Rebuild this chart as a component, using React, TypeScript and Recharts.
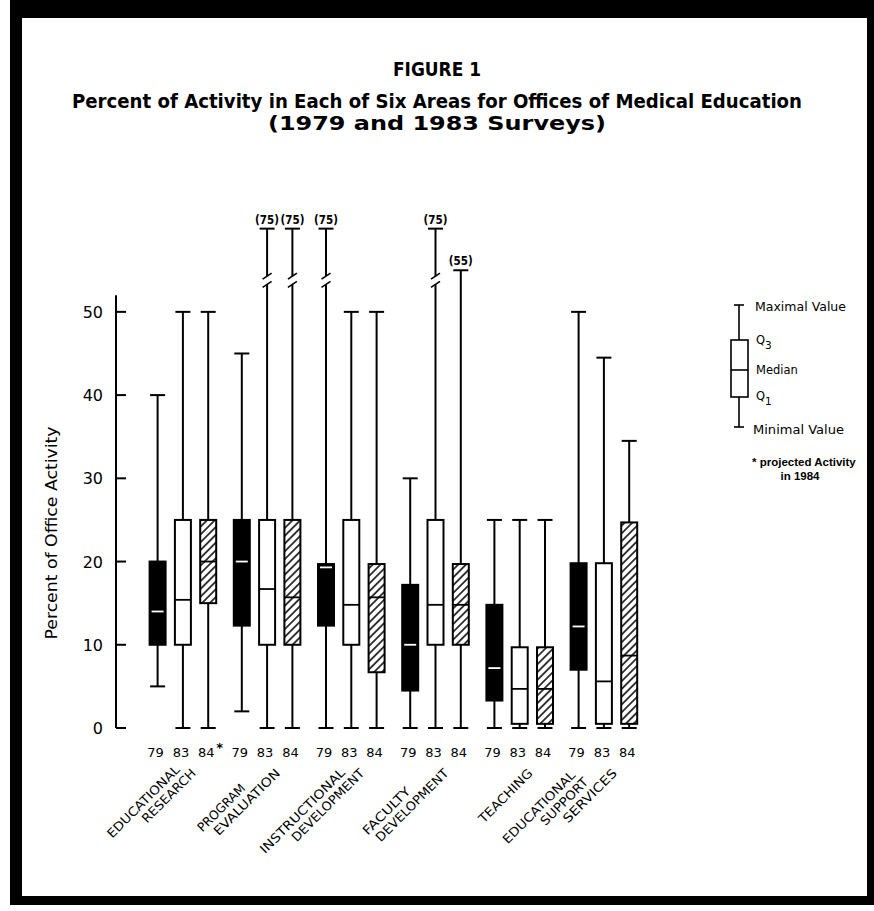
import React from "react";
import { ComposedChart, Bar, XAxis, YAxis, ReferenceLine } from "recharts";

// ---------- data ----------
const areas = [
  "EDUCATIONAL RESEARCH",
  "PROGRAM EVALUATION",
  "INSTRUCTIONAL DEVELOPMENT",
  "FACULTY DEVELOPMENT",
  "TEACHING",
  "EDUCATIONAL SUPPORT SERVICES",
];
const areaLines = [
  ["EDUCATIONAL", "RESEARCH"],
  ["PROGRAM", "EVALUATION"],
  ["INSTRUCTIONAL", "DEVELOPMENT"],
  ["FACULTY", "DEVELOPMENT"],
  ["TEACHING"],
  ["EDUCATIONAL", "SUPPORT", "SERVICES"],
];
const yTicks = [0, 10, 20, 30, 40, 50];

// 1979 survey
const min79 = [5, 2, 0, 0, 0, 0];
const q1_79 = [10, 12.3, 12.3, 4.5, 3.3, 7];
const med79 = [14, 20, 19.3, 10, 7.2, 12.2];
const q3_79 = [20, 25, 19.7, 17.2, 14.8, 19.8];
const max79 = [40, 45, 75, 30, 25, 50];
// 1983 survey
const min83 = [0, 0, 0, 0, 0, 0];
const q1_83 = [10, 10, 10, 10, 0.5, 0.5];
const med83 = [15.4, 16.7, 14.8, 14.8, 4.7, 5.6];
const q3_83 = [25, 25, 25, 25, 9.7, 19.8];
const max83 = [50, 75, 50, 75, 25, 44.5];
// 1984 projected
const min84 = [0, 0, 0, 0, 0, 0];
const q1_84 = [15, 10, 6.7, 10, 0.5, 0.5];
const med84 = [20, 15.7, 15.7, 14.8, 4.7, 8.7];
const q3_84 = [25, 25, 19.7, 19.7, 9.7, 24.7];
const max84 = [50, 75, 50, 55, 25, 34.5];

// values above BREAK_ABOVE are drawn on a broken whisker ending at BREAK_TOP
const BREAK_ABOVE = 55;
const BREAK_TOP = 60;
const disp = (v: number) => (v > BREAK_ABOVE ? BREAK_TOP : v);

type Kind = "solid" | "hollow" | "hatch";
const series: { key: string; kind: Kind; min: number[]; q1: number[]; med: number[]; q3: number[]; max: number[] }[] = [
  { key: "79", kind: "solid", min: min79, q1: q1_79, med: med79, q3: q3_79, max: max79 },
  { key: "83", kind: "hollow", min: min83, q1: q1_83, med: med83, q3: q3_83, max: max83 },
  { key: "84", kind: "hatch", min: min84, q1: q1_84, med: med84, q3: q3_84, max: max84 },
];

const data = areas.map((a, i) => {
  const row: any = { area: a, idx: i };
  series.forEach((s) => {
    row["lo" + s.key] = s.min[i];
    row["hi" + s.key] = disp(s.max[i]);
  });
  return row;
});

// ---------- shapes ----------
const SANS = "DejaVu Sans";
const TITLE_FONT = "'DejaVu Sans Condensed', 'Liberation Sans Narrow', 'Liberation Sans', sans-serif";

function BoxShape(props: any) {
  const { x, y, width, height, payload, s } = props;
  const ser = series[s];
  const i = payload.idx;
  const mn = ser.min[i];
  const mx = ser.max[i];
  const dmx = disp(mx);
  const top = Math.min(y, y + height);
  const bot = Math.max(y, y + height);
  const ppu = (bot - top) / (dmx - mn);
  const py = (v: number) => bot - (v - mn) * ppu;
  const cx = x + width / 2;
  const q1y = py(ser.q1[i]);
  const q3y = py(ser.q3[i]);
  const medy = py(ser.med[i]);
  const maxy = py(dmx);
  const miny = py(mn);
  const zeroy = py(0);
  const cap = 7.5;
  const broken = mx > BREAK_ABOVE;
  const sw = 2;
  const b1 = py(53.3);
  const b2 = py(54.3);
  const fill = ser.kind === "solid" ? "#000" : ser.kind === "hollow" ? "#fff" : "url(#hatch)";
  const medColor = ser.kind === "solid" ? "#fff" : "#000";
  return (
    <g>
      {broken ? (
        <g>
          <line x1={cx} x2={cx} y1={q3y} y2={b1} stroke="#000" strokeWidth={sw} />
          <line x1={cx} x2={cx} y1={b2} y2={maxy} stroke="#000" strokeWidth={sw} />
          <line x1={cx - 4.5} y1={b1 + 3} x2={cx + 4.5} y2={b1 - 3} stroke="#000" strokeWidth={1.6} />
          <line x1={cx - 4.5} y1={b2 + 3} x2={cx + 4.5} y2={b2 - 3} stroke="#000" strokeWidth={1.6} />
        </g>
      ) : (
        <line x1={cx} x2={cx} y1={q3y} y2={maxy} stroke="#000" strokeWidth={sw} />
      )}
      <line x1={cx - cap} x2={cx + cap} y1={maxy} y2={maxy} stroke="#000" strokeWidth={sw} />
      {mx > 50 && (
        <text x={cx} y={maxy - 5} textAnchor="middle" fontSize={11.5} fontWeight="bold" fontFamily={SANS} textLength={24} lengthAdjust="spacingAndGlyphs">
          ({mx})
        </text>
      )}
      <line x1={cx} x2={cx} y1={q1y} y2={miny} stroke="#000" strokeWidth={sw} />
      <line x1={cx - cap} x2={cx + cap} y1={miny} y2={miny} stroke="#000" strokeWidth={sw} />
      <rect x={x + 1} y={q3y} width={width - 2} height={q1y - q3y} fill={fill} stroke="#000" strokeWidth={sw} />
      <line
        x1={x + (ser.kind === "solid" ? 3 : 1)}
        x2={x + width - (ser.kind === "solid" ? 3 : 1)}
        y1={medy}
        y2={medy}
        stroke={medColor}
        strokeWidth={1.8}
      />
      <text x={cx - 2} y={zeroy + 29} textAnchor="middle" fontSize={13} fontFamily={SANS}>
        {ser.key}
      </text>
      {i === 0 && ser.key === "84" && (
        <text x={cx + 8} y={zeroy + 24} fontSize={13} fontWeight="bold" fontFamily={SANS}>
          *
        </text>
      )}
    </g>
  );
}

const YTick = (props: any) => {
  const { x, y, payload } = props;
  return (
    <g>
      <text x={x - 13} y={y + 6} textAnchor="end" fontSize={16} fontFamily={SANS} fill="#000">
        {payload.value}
      </text>
      <line x1={x} x2={x + 10} y1={y} y2={y} stroke="#000" strokeWidth={2} />
    </g>
  );
};

const CHAR_W = 8.8;
const XTick = (props: any) => {
  const { x, y, payload } = props;
  const i = areas.indexOf(payload.value);
  const lines = areaLines[i] || [];
  const n = lines.length;
  const lastLen = (lines[n - 1] || "").length * CHAR_W;
  return (
    <g transform={`translate(${x + 14},${y + 46}) rotate(-45)`}>
      {lines.map((ln, j) => {
        const k = n - 1 - j;
        return (
          <text
            key={j}
            x={-lastLen / 2 - k * 22}
            y={-k * 14}
            textAnchor="middle"
            fontSize={12.5}
            fontFamily={SANS}
            fill="#000"
            textLength={ln.length * CHAR_W}
            lengthAdjust="spacingAndGlyphs"
          >
            {ln}
          </text>
        );
      })}
    </g>
  );
};

// ---------- app ----------
export default function App() {
  return (
    <div style={{ position: "absolute", left: 0, top: 0, width: 874, height: 911, background: "#fff", overflow: "hidden" }}>
      <svg width={0} height={0} style={{ position: "absolute" }}>
        <defs>
          <pattern id="hatch" width="5.5" height="5.5" patternUnits="userSpaceOnUse" patternTransform="rotate(45)">
            <rect x="0" y="0" width="5.5" height="5.5" fill="#fff" />
            <line x1="2.75" y1="0" x2="2.75" y2="5.5" stroke="#000" strokeWidth="1.5" />
          </pattern>
        </defs>
      </svg>
      <div
        style={{
          position: "absolute",
          left: 10,
          top: 0,
          width: 864,
          height: 905,
          boxSizing: "border-box",
          borderTop: "18px solid #000",
          borderLeft: "12px solid #000",
          borderRight: "7px solid #000",
          borderBottom: "9px solid #000",
        }}
      />
      <div style={{ position: "absolute", left: 0, top: 0 }}>
        <ComposedChart
          width={874}
          height={911}
          data={data}
          margin={{ top: 212, right: 194, bottom: 153, left: 56 }}
          barGap={7.3}
        >
          <XAxis
            dataKey="area"
            interval={0}
            height={30}
            tickSize={0}
            tickMargin={0}
            axisLine={false}
            tickLine={false}
            padding={{ left: 24.6, right: 34.2 }}
            tick={<XTick />}
          />
          <XAxis xAxisId="num" type="number" domain={[0, 1]} hide allowDataOverflow />
          <YAxis
            type="number"
            domain={[0, 62]}
            ticks={yTicks}
            width={60}
            tickSize={0}
            tickMargin={0}
            axisLine={false}
            tickLine={false}
            tick={<YTick />}
          />
          <ReferenceLine
            xAxisId="num"
            segment={[
              { x: 0, y: 0 },
              { x: 0, y: 52 },
            ]}
            stroke="#000"
            strokeWidth={2}
            ifOverflow="visible"
          />
          {series.map((s, si) => (
            <Bar
              key={s.key}
              dataKey={(d: any) => [d["lo" + s.key], d["hi" + s.key]]}
              barSize={18}
              isAnimationActive={false}
              shape={(p: any) => <BoxShape {...p} s={si} />}
            />
          ))}
        </ComposedChart>
      </div>
      <svg width={874} height={911} style={{ position: "absolute", left: 0, top: 0, pointerEvents: "none" }}>
        <g fontFamily={TITLE_FONT} fontWeight="bold" fill="#000">
          <text x={437} y={76} textAnchor="middle" fontSize={20} textLength={88} lengthAdjust="spacingAndGlyphs">
            FIGURE 1
          </text>
          <text x={437} y={108} textAnchor="middle" fontSize={20} textLength={730} lengthAdjust="spacingAndGlyphs">
            Percent of Activity in Each of Six Areas for Offices of Medical Education
          </text>
          <text x={437} y={130} textAnchor="middle" fontSize={20} textLength={338} lengthAdjust="spacingAndGlyphs">
            (1979 and 1983 Surveys)
          </text>
        </g>
        <text
          transform="translate(57,533) rotate(-90)"
          textAnchor="middle"
          fontSize={16}
          fontFamily={SANS}
          fill="#000"
          textLength={213}
          lengthAdjust="spacingAndGlyphs"
        >
          Percent of Office Activity
        </text>
        <g stroke="#000" strokeWidth={1.6} fill="none">
          <line x1={739} x2={739} y1={305} y2={340} />
          <line x1={734} x2={744} y1={305} y2={305} />
          <rect x={731} y={340} width={17} height={57} fill="#fff" />
          <line x1={731} x2={748} y1={370} y2={370} />
          <line x1={739} x2={739} y1={397} y2={427} />
          <line x1={734} x2={744} y1={427} y2={427} />
        </g>
        <g fontFamily={SANS} fontSize={11.5} fill="#000">
          <text x={755} y={311} textLength={91} lengthAdjust="spacingAndGlyphs">Maximal Value</text>
          <text x={756} y={344}>
            Q<tspan fontSize={10.5} dy={5}>3</tspan>
          </text>
          <text x={756} y={374}>Median</text>
          <text x={756} y={400}>
            Q<tspan fontSize={10.5} dy={5}>1</tspan>
          </text>
          <text x={753} y={434} textLength={91} lengthAdjust="spacingAndGlyphs">Minimal Value</text>
        </g>
        <g fontFamily="Liberation Sans" fontSize={11.5} fontWeight="bold" fill="#000">
          <text x={752} y={466}>* projected Activity</text>
          <text x={800} y={480} textAnchor="middle">
            in 1984
          </text>
        </g>
      </svg>
    </div>
  );
}
